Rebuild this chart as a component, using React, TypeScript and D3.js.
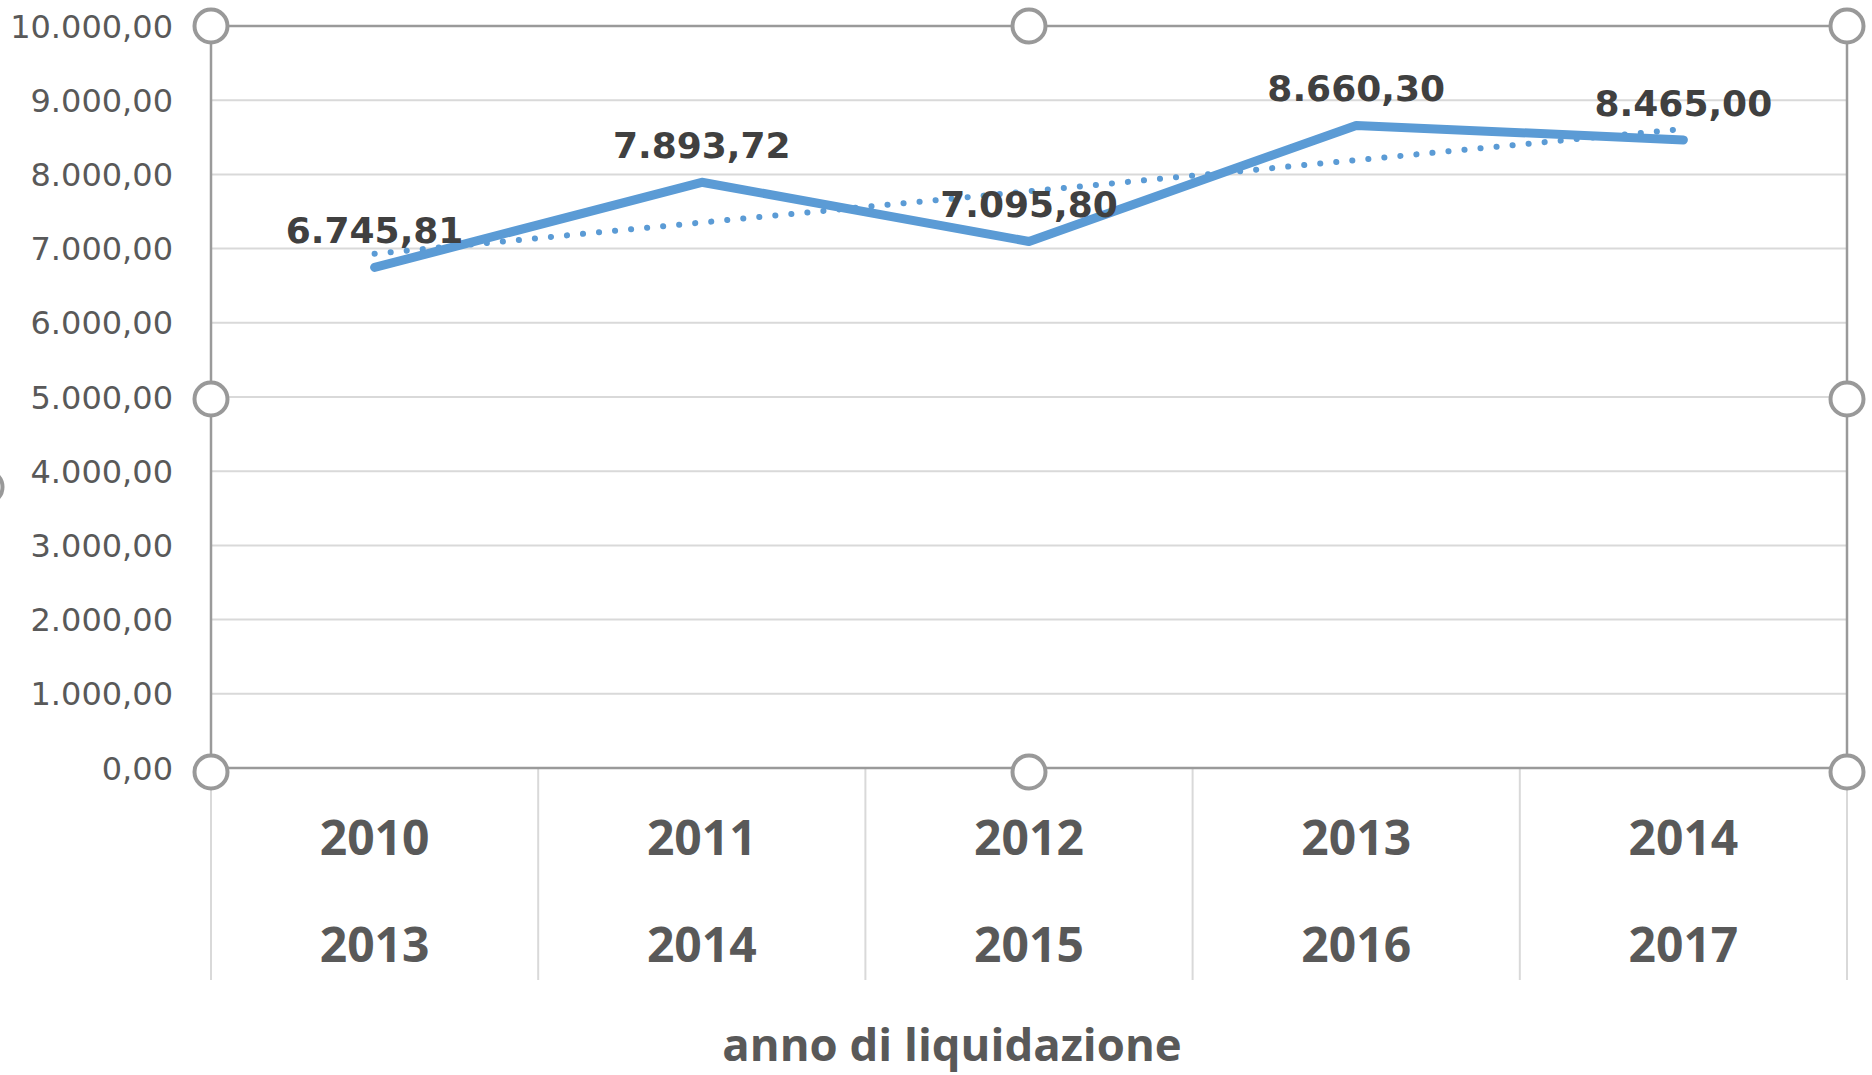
import React from "react";
import * as d3 from "d3";

const periodStart = ["2010", "2011", "2012", "2013", "2014"];
const periodEnd = ["2013", "2014", "2015", "2016", "2017"];
const values = [6745.81, 7893.72, 7095.8, 8660.3, 8465.0];
const yTicks = [0, 1000, 2000, 3000, 4000, 5000, 6000, 7000, 8000, 9000, 10000];
const axisTitle = "anno di liquidazione";

const W = 1872;
const H = 1075;
const left = 211;
const right = 1847;
const top = 26;
const bottom = 768;
const selBottom = 772;

const it = d3.formatLocale({ decimal: ",", thousands: ".", grouping: [3], currency: ["€", ""] });
const fmt = it.format(",.2f");

export default function App() {
  const cats = periodStart.map((s, i) => `${s}-${periodEnd[i]}`);
  const x = d3.scaleBand<string>().domain(cats).range([left, right]).paddingInner(0).paddingOuter(0);
  const y = d3.scaleLinear().domain([0, 10000]).range([bottom, top]);
  const cx = (i: number) => (x(cats[i]) as number) + x.bandwidth() / 2;

  const line = d3
    .line<number>()
    .x((_, i) => cx(i))
    .y((d) => y(d));

  // linear trend (least squares), as Excel's linear trendline
  const n = values.length;
  const xs = values.map((_, i) => i + 1);
  const mx = d3.mean(xs) as number;
  const my = d3.mean(values) as number;
  const slope =
    d3.sum(xs.map((xv, i) => (xv - mx) * (values[i] - my))) / d3.sum(xs.map((xv) => (xv - mx) ** 2));
  const intercept = my - slope * mx;
  const trend = [0, n - 1].map((i) => ({ i, v: intercept + slope * (i + 1) }));

  const sepX = [...cats.map((c) => x(c) as number), right];
  const midX = (left + right) / 2;
  const midY = (top + selBottom) / 2;
  const handles = [
    [left, top],
    [midX, top],
    [right, top],
    [left, midY],
    [right, midY],
    [left, selBottom],
    [midX, selBottom],
    [right, selBottom],
  ];

  return (
    <svg
      width={W}
      height={H}
      style={{ position: "absolute", left: 0, top: 0, background: "#fff" }}
      fontFamily="'DejaVu Sans', sans-serif"
    >
      {/* gridlines */}
      {yTicks.map((t) => (
        <line key={t} x1={left} x2={right} y1={y(t)} y2={y(t)} stroke="#D9D9D9" strokeWidth={2} />
      ))}
      {/* category separators */}
      {sepX.map((sx, i) => (
        <line key={i} x1={sx} x2={sx} y1={bottom} y2={980} stroke="#D9D9D9" strokeWidth={2} />
      ))}
      {/* selection frame */}
      <rect x={left} y={top} width={right - left} height={bottom - top} fill="none" stroke="#9A9A9A" strokeWidth={2.5} />
      {/* y tick labels */}
      {yTicks.map((t) => (
        <text key={t} x={173} y={y(t)} dy="0.36em" textAnchor="end" fontSize={32} fill="#595959">
          {fmt(t)}
        </text>
      ))}
      {/* category labels */}
      {cats.map((c, i) => (
        <g key={c} fontFamily="'Open Sans', sans-serif" fontWeight={700} fontSize={48} fill="#595959" textAnchor="middle">
          <text x={cx(i)} y={855}>
            {periodStart[i]}
          </text>
          <text x={cx(i)} y={962}>
            {periodEnd[i]}
          </text>
        </g>
      ))}
      <text
        x={952}
        y={1061}
        textAnchor="middle"
        fontFamily="'Open Sans', sans-serif"
        fontWeight={700}
        fontSize={45.5}
        fill="#595959"
      >
        {axisTitle}
      </text>
      {/* trend line */}
      <line
        x1={cx(trend[0].i)}
        y1={y(trend[0].v)}
        x2={cx(trend[1].i)}
        y2={y(trend[1].v)}
        stroke="#5B9BD5"
        strokeWidth={6}
        strokeLinecap="round"
        strokeDasharray="0.1 16"
      />
      {/* data line */}
      <path d={line(values) as string} fill="none" stroke="#5B9BD5" strokeWidth={9} strokeLinejoin="round" strokeLinecap="round" />
      {/* data labels */}
      {values.map((v, i) => (
        <text key={i} x={cx(i)} y={y(v) - 24} textAnchor="middle" fontSize={36} fontWeight={700} fill="#404040">
          {fmt(v)}
        </text>
      ))}
      {/* handles */}
      {handles.map(([hx, hy], i) => (
        <circle key={i} cx={hx} cy={hy} r={16.5} fill="#fff" stroke="#999" strokeWidth={4} />
      ))}
      <circle cx={-14} cy={487} r={16.5} fill="#fff" stroke="#999" strokeWidth={4} />
    </svg>
  );
}
